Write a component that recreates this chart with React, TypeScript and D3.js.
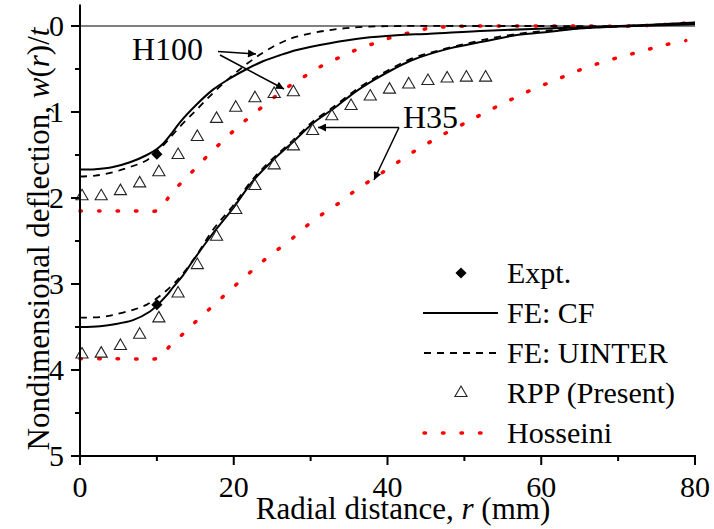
import React, { useEffect, useRef } from "react";
import * as d3 from "d3";

// ---- data ----
const h100CfX = [0, 2, 4.3, 6.5, 8.7, 10, 10.8, 12, 13, 15.2, 17.3, 19.5, 21.7, 23.8, 26, 28.2, 32.5, 36.9, 41.2, 45.5, 52.9, 61.5, 70.2, 80];
const h100CfW = [1.67, 1.665, 1.64, 1.585, 1.5, 1.43, 1.37, 1.24, 1.12, 0.91, 0.74, 0.61, 0.5, 0.41, 0.34, 0.28, 0.2, 0.14, 0.108, 0.09, 0.054, 0.027, 0, -0.04];

const h100UiX = [0, 2, 4.3, 6.5, 8.7, 10.8, 13, 15.2, 17.3, 19.5, 21.7, 23.8, 26, 28.2, 32.5, 36.9, 42, 50, 60, 70, 80];
const h100UiW = [1.75, 1.74, 1.7, 1.64, 1.56, 1.39, 1.17, 0.97, 0.78, 0.6, 0.44, 0.31, 0.2, 0.124, 0.047, 0.01, 0, 0, 0, 0, -0.04];

const h100HoX = [0, 2.6, 5.3, 7.6, 10.2, 11.7, 13.4, 15.2, 16.9, 18.9, 20.7, 22.6, 24.7, 26.7, 28.8, 31.1, 33.4, 35.6, 38, 40.4, 42.9, 45.2, 47.9, 55, 65, 72, 80];
const h100HoW = [2.15, 2.15, 2.15, 2.15, 2.14, 1.97, 1.8, 1.64, 1.48, 1.31, 1.16, 1.02, 0.87, 0.73, 0.61, 0.48, 0.38, 0.29, 0.21, 0.136, 0.078, 0.03, 0.008, 0, 0, 0, -0.04];

const h35CfX = [0, 2.6, 4.3, 6.9, 9.1, 10, 11.3, 12.1, 13.4, 14.7, 17.3, 19.9, 22.5, 25.1, 27.7, 30.3, 33, 35.6, 38.2, 40.8, 43.4, 48.1, 52.5, 56.8, 61.1, 65.5, 72, 80];
const h35CfW = [3.5, 3.49, 3.47, 3.42, 3.32, 3.25, 3.13, 3.04, 2.9, 2.73, 2.41, 2.12, 1.8, 1.56, 1.35, 1.13, 0.96, 0.78, 0.63, 0.5, 0.39, 0.26, 0.18, 0.105, 0.066, 0.027, 0, -0.02];

const h35UiX = [0, 2.6, 4.3, 6.9, 8.7, 10.8, 13, 15.2, 17.3, 19.9, 22.5, 25.1, 27.7, 30.3, 33, 35.6, 38.2, 40.8, 43.4, 46, 50, 54.6, 60, 65.5, 72, 80];
const h35UiW = [3.39, 3.385, 3.36, 3.3, 3.24, 3.11, 2.92, 2.66, 2.37, 2.09, 1.78, 1.54, 1.33, 1.11, 0.94, 0.76, 0.61, 0.48, 0.37, 0.3, 0.21, 0.124, 0.06, 0.025, 0, -0.03];

const h35HoX = [0, 3, 5.5, 8, 10.2, 11.9, 13.9, 15.6, 17.6, 19.4, 21.3, 23.2, 25.1, 27.1, 29, 31, 33.2, 35.1, 37.2, 39.4, 41.4, 43.6, 45.7, 48.1, 50.5, 52.4, 54.6, 56.9, 59.3, 61.6, 63.9, 66.3, 68.7, 71.1, 73.6, 76.1, 78.8];
const h35HoW = [3.87, 3.87, 3.87, 3.87, 3.86, 3.7, 3.54, 3.39, 3.23, 3.08, 2.93, 2.78, 2.64, 2.51, 2.36, 2.22, 2.09, 1.96, 1.83, 1.7, 1.58, 1.45, 1.34, 1.22, 1.11, 1.02, 0.92, 0.82, 0.72, 0.64, 0.55, 0.47, 0.4, 0.34, 0.28, 0.22, 0.17];

const rppH100X = [0, 2.5, 5, 7.5, 10, 12.5, 15, 17.5, 20, 22.5, 25, 27.5];
const rppH100W = [1.98, 1.98, 1.92, 1.83, 1.7, 1.5, 1.29, 1.08, 0.95, 0.84, 0.79, 0.77];

const rppH35X = [0, 2.5, 5, 7.5, 10, 12.5, 15, 17.5, 20, 22.5, 25, 27.5, 30, 32.5, 35, 37.5, 40, 42.5, 45, 47.5, 50, 52.5];
const rppH35W = [3.82, 3.81, 3.72, 3.59, 3.4, 3.11, 2.78, 2.45, 2.14, 1.86, 1.62, 1.4, 1.22, 1.05, 0.93, 0.82, 0.74, 0.68, 0.64, 0.61, 0.6, 0.6];

const exptX = [10, 10];
const exptW = [1.49, 3.24];

const xTicks = [0, 20, 40, 60, 80];
const yTicks = [0, 1, 2, 3, 4, 5];
const legendLabels = ["Expt.", "FE: CF", "FE: UINTER", "RPP (Present)", "Hosseini"];

const W = 714;
const H = 529;
const L = 80, R = 695, T = 26, B = 456;
const FONT = "Liberation Serif";

const zip = (xs: number[], ys: number[]) => xs.map((x, i) => [x, ys[i]] as [number, number]);

export default function App() {
  const ref = useRef<SVGSVGElement | null>(null);

  useEffect(() => {
    const svg = d3.select(ref.current);
    svg.selectAll("*").remove();
    svg.attr("font-family", FONT).style("font-family", FONT);

    const x = d3.scaleLinear().domain([0, 80]).range([L, R]);
    const y = d3.scaleLinear().domain([0, 5]).range([T, B]);
    const line = d3
      .line<[number, number]>()
      .x((d) => x(d[0]))
      .y((d) => y(d[1]))
      .curve(d3.curveCatmullRom.alpha(0.5));

    const tri = d3.symbol(d3.symbolTriangle, 64)() || "";
    const dia = d3.symbol(d3.symbolSquare, 62)() || "";

    const defs = svg.append("defs");
    defs
      .append("marker")
      .attr("id", "ah")
      .attr("viewBox", "0 0 10 10")
      .attr("refX", 10)
      .attr("refY", 5)
      .attr("markerWidth", 12)
      .attr("markerHeight", 8)
      .attr("markerUnits", "userSpaceOnUse")
      .attr("orient", "auto")
      .append("path")
      .attr("d", "M0,0 L10,5 L0,10 Z")
      .attr("fill", "#000");

    const solid = (s: any) => s.attr("stroke", "#000").attr("stroke-width", 2).attr("fill", "none");
    const dashed = (s: any) => s.attr("stroke", "#000").attr("stroke-width", 1.8).attr("stroke-dasharray", "7 6").attr("fill", "none");
    const dotted = (s: any) =>
      s.attr("stroke", "#ff0000").attr("stroke-width", 3.5).attr("stroke-dasharray", "1.5 17").attr("stroke-linecap", "round").attr("fill", "none");

    // zero line
    svg.append("line").attr("x1", L).attr("x2", R).attr("y1", y(0)).attr("y2", y(0)).attr("stroke", "#000").attr("stroke-width", 1);

    // curves
    svg.append("path").attr("d", line(zip(h100HoX, h100HoW))).call(dotted);
    svg.append("path").attr("d", line(zip(h35HoX, h35HoW))).call(dotted);
    svg.append("path").attr("d", line(zip(h100UiX, h100UiW))).call(dashed);
    svg.append("path").attr("d", line(zip(h35UiX, h35UiW))).call(dashed);
    svg.append("path").attr("d", line(zip(h100CfX, h100CfW))).call(solid);
    svg.append("path").attr("d", line(zip(h35CfX, h35CfW))).call(solid);

    // triangles
    svg
      .selectAll("path.tri")
      .data(zip(rppH100X, rppH100W).concat(zip(rppH35X, rppH35W)))
      .join("path")
      .attr("class", "tri")
      .attr("d", tri)
      .attr("transform", (d) => `translate(${x(d[0]) + 2},${y(d[1])})`)
      .attr("fill", "none")
      .attr("stroke", "#222")
      .attr("stroke-width", 1.1);

    // diamonds
    svg
      .selectAll("path.dia")
      .data(zip(exptX, exptW))
      .join("path")
      .attr("class", "dia")
      .attr("d", dia)
      .attr("transform", (d) => `translate(${x(d[0])},${y(d[1])}) rotate(45)`)
      .attr("fill", "#000");

    // axes
    svg.append("line").attr("x1", L).attr("x2", L).attr("y1", y(-0.25)).attr("y2", B).attr("stroke", "#000").attr("stroke-width", 2);
    svg.append("line").attr("x1", L - 1).attr("x2", R + 1).attr("y1", B).attr("y2", B).attr("stroke", "#000").attr("stroke-width", 2);

    xTicks.forEach((t) => {
      svg.append("line").attr("x1", x(t)).attr("x2", x(t)).attr("y1", B).attr("y2", B + 9).attr("stroke", "#000").attr("stroke-width", 2);
      svg.append("text").attr("x", x(t)).attr("y", 497).attr("font-size", 30).attr("text-anchor", "middle").style("font-family", FONT).text(String(t));
    });
    d3.range(10, 80, 20).forEach((t) => {
      svg.append("line").attr("x1", x(t)).attr("x2", x(t)).attr("y1", B).attr("y2", B + 5).attr("stroke", "#000").attr("stroke-width", 2);
    });
    yTicks.forEach((t) => {
      svg.append("line").attr("x1", L - 9).attr("x2", L).attr("y1", y(t)).attr("y2", y(t)).attr("stroke", "#000").attr("stroke-width", 2);
      svg.append("text").attr("x", 64).attr("y", y(t) + 10).attr("font-size", 30).attr("text-anchor", "end").style("font-family", FONT).text(String(t));
    });
    d3.range(0.5, 5, 1).forEach((t) => {
      svg.append("line").attr("x1", L - 5).attr("x2", L).attr("y1", y(t)).attr("y2", y(t)).attr("stroke", "#000").attr("stroke-width", 2);
    });

    // axis titles
    const xt = svg.append("text").attr("x", 403).attr("y", 519).attr("font-size", 31).attr("text-anchor", "middle").style("font-family", FONT);
    xt.append("tspan").text("Radial distance, ");
    xt.append("tspan").attr("font-style", "italic").text("r");
    xt.append("tspan").text(" (mm)");

    const yt = svg
      .append("text")
      .attr("transform", `translate(49,${(T + B) / 2 - 2}) rotate(-90)`)
      .attr("font-size", 31)
      .attr("text-anchor", "middle")
      .style("font-family", FONT);
    yt.append("tspan").text("Nondimensional deflection, ");
    yt.append("tspan").attr("font-style", "italic").text("w");
    yt.append("tspan").text("(");
    yt.append("tspan").attr("font-style", "italic").text("r");
    yt.append("tspan").text(")/");
    yt.append("tspan").attr("font-style", "italic").text("t");

    // annotations
    const arrow = (x1: number, y1: number, x2: number, y2: number) =>
      svg.append("line").attr("x1", x1).attr("y1", y1).attr("x2", x2).attr("y2", y2).attr("stroke", "#000").attr("stroke-width", 1.5).attr("marker-end", "url(#ah)");
    svg.append("text").attr("x", 132).attr("y", 60).attr("font-size", 32).style("font-family", FONT).text("H100");
    arrow(218, 51.5, 256, 54);
    arrow(220, 55, 284, 89);
    svg.append("text").attr("x", 403).attr("y", 128).attr("font-size", 32).style("font-family", FONT).text("H35");
    arrow(399, 127.5, 318, 127.5);
    arrow(399, 127.5, 374, 180);

    // legend
    const legY0 = 273;
    const legDy = 40;
    legendLabels.forEach((lab, i) => {
      svg.append("text").attr("x", 507).attr("y", legY0 + i * legDy + 10).attr("font-size", 30).style("font-family", FONT).text(lab);
    });
    svg.append("path").attr("d", dia).attr("transform", `translate(461,${legY0}) rotate(45)`).attr("fill", "#000");
    svg.append("line").attr("x1", 423).attr("x2", 498).attr("y1", legY0 + legDy).attr("y2", legY0 + legDy).call(solid);
    svg.append("line").attr("x1", 424).attr("x2", 498).attr("y1", legY0 + 2 * legDy).attr("y2", legY0 + 2 * legDy).call(dashed);
    svg.append("path").attr("d", tri).attr("transform", `translate(461,${legY0 + 3 * legDy})`).attr("fill", "none").attr("stroke", "#222").attr("stroke-width", 1.1);
    svg.append("line").attr("x1", 424).attr("x2", 484).attr("y1", legY0 + 4 * legDy).attr("y2", legY0 + 4 * legDy).call(dotted);
  }, []);

  return <svg ref={ref} width={W} height={H} style={{ position: "absolute", left: 0, top: 0, background: "#fff" }} />;
}
